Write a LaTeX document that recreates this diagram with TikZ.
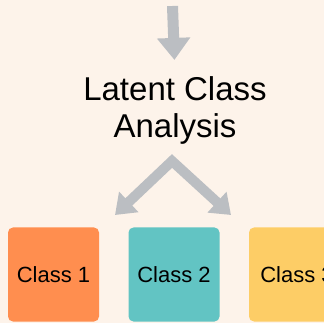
\documentclass[tikz,border=0pt]{standalone}
\usepackage{fontspec}
\setmainfont{Liberation Sans}
\usetikzlibrary{arrows.meta}

\definecolor{bgcream}{HTML}{FDF3EA}
\definecolor{arrowgrey}{HTML}{BBBEC2}
\definecolor{classorange}{HTML}{FF8E4F}
\definecolor{classteal}{HTML}{62C4C3}
\definecolor{classyellow}{HTML}{FDCD66}

\begin{document}
\begin{tikzpicture}[x=1pt,y=-1pt,
    classbox/.style={rounded corners=5pt,minimum width=91pt,minimum height=94pt,inner sep=0pt,font=\fontsize{22}{26}\selectfont},
    flowarrow/.style={arrowgrey,line width=10pt,line join=miter}]
    \fill[bgcream](0,0)rectangle(324,323);
    \useasboundingbox(0,0)rectangle(324,323);

    \coordinate(src)at(172.5,6);
    \node[inner sep=0pt,align=center,font=\fontsize{33}{37}\selectfont](lca)at(175,110){Latent Class\\Analysis};
    \draw[flowarrow,line width=11pt,-{Triangle[length=22pt,width=32pt]},shorten >=16pt](src)--(lca.north);

    \coordinate(apex)at(172,161);
    \coordinate(lt)at(115,215);
    \coordinate(rt)at(231,215);
    \draw[flowarrow,{Triangle[length=19pt,width=27pt]}-{Triangle[length=19pt,width=27pt]}](lt)--(apex)--(rt);

    \node[classbox,fill=classorange](c1)at(53.5,274.5){Class 1};
    \node[classbox,fill=classteal](c2)at(174,274.5){Class 2};
    \node[classbox,fill=classyellow,minimum width=96pt](c3)at(297,274.5){Class 3};
\end{tikzpicture}
\end{document}
